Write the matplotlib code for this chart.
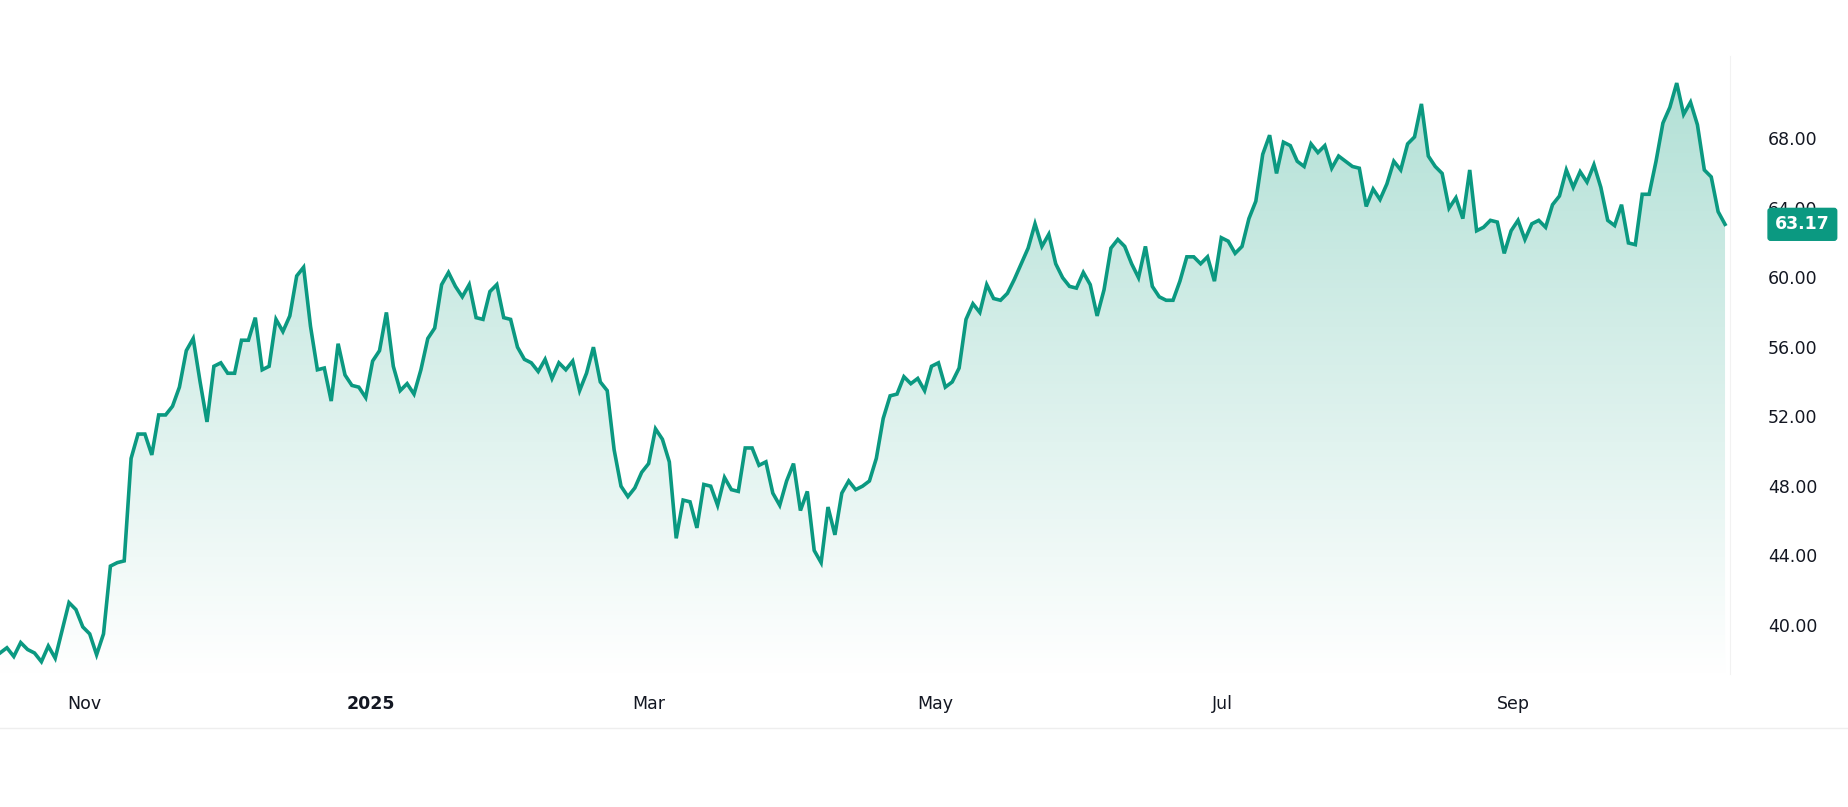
import matplotlib
matplotlib.use("Agg")
import matplotlib.pyplot as plt
import matplotlib.dates as mdates
import numpy as np
import pandas as pd
from matplotlib.colors import LinearSegmentedColormap

values = [38.5, 38.8, 38.3, 39.1, 38.7, 38.5, 38.0, 38.9, 38.2, 39.8, 41.4, 41.0, 40.0, 39.6, 38.4, 39.6,
          43.5, 43.7, 43.8, 49.7, 51.1, 51.1, 49.9, 52.2, 52.2, 52.7, 53.8, 55.9, 56.6, 54.1, 51.8, 55.0,
          55.2, 54.6, 54.6, 56.5, 56.5, 57.8, 54.8, 55.0, 57.7, 57.0, 57.9, 60.2, 60.7, 57.3, 54.8, 54.9,
          53.0, 56.3, 54.5, 53.9, 53.8, 53.2, 55.3, 55.9, 58.1, 55.0, 53.6, 54.0, 53.4, 54.8, 56.6, 57.2,
          59.7, 60.4, 59.6, 59.0, 59.7, 57.8, 57.7, 59.3, 59.7, 57.8, 57.7, 56.1, 55.4, 55.2, 54.7, 55.4,
          54.3, 55.2, 54.8, 55.3, 53.6, 54.6, 56.1, 54.1, 53.6, 50.2, 48.1, 47.5, 48.0, 48.9, 49.4, 51.4,
          50.8, 49.5, 45.1, 47.3, 47.2, 45.7, 48.2, 48.1, 47.0, 48.6, 47.9, 47.8, 50.3, 50.3, 49.3, 49.5,
          47.7, 47.0, 48.4, 49.4, 46.7, 47.8, 44.4, 43.7, 46.9, 45.3, 47.7, 48.4, 47.9, 48.1, 48.4, 49.7,
          52.0, 53.3, 53.4, 54.4, 54.0, 54.3, 53.6, 55.0, 55.2, 53.8, 54.1, 54.9, 57.7, 58.6, 58.1, 59.7,
          58.9, 58.8, 59.2, 60.0, 60.9, 61.8, 63.2, 61.9, 62.6, 60.9, 60.1, 59.6, 59.5, 60.4, 59.7, 57.9,
          59.4, 61.8, 62.3, 61.9, 60.9, 60.1, 61.9, 59.6, 59.0, 58.8, 58.8, 59.9, 61.3, 61.3, 60.9, 61.3,
          59.9, 62.4, 62.2, 61.5, 61.9, 63.5, 64.5, 67.2, 68.3, 66.1, 67.9, 67.7, 66.8, 66.5, 67.8, 67.3,
          67.7, 66.4, 67.1, 66.8, 66.5, 66.4, 64.2, 65.2, 64.6, 65.5, 66.8, 66.3, 67.8, 68.2, 70.1, 67.1,
          66.5, 66.1, 64.1, 64.7, 63.5, 66.3, 62.8, 63.0, 63.4, 63.3, 61.5, 62.8, 63.4, 62.3, 63.2, 63.4,
          63.0, 64.3, 64.8, 66.3, 65.3, 66.2, 65.6, 66.6, 65.3, 63.4, 63.1, 64.3, 62.1, 62.0, 64.9, 64.9,
          66.8, 69.0, 69.9, 71.3, 69.5, 70.2, 68.9, 66.3, 65.9, 63.9, 63.17]
start, end = "2024-10-14", "2025-10-16"
yticks = [40, 44, 48, 52, 56, 60, 64, 68]
xtick_dates = ["2024-11-01", "2025-01-01", "2025-03-01", "2025-05-01", "2025-07-01", "2025-09-01"]
xtick_labels = ["Nov", "2025", "Mar", "May", "Jul", "Sep"]

dates = pd.date_range(start, end, periods=len(values))
x = mdates.date2num(dates)
y = np.array(values)
color = "#0b9981"

fig = plt.figure(figsize=(18.48, 8.07), dpi=100)
ax = fig.add_axes([0.0, 0.165, 0.936, 0.765])
ymin, ymax = 37.30, 72.83
ax.set_ylim(ymin, ymax)
ax.set_xlim(x[0], x[-1] + 1)

poly = ax.fill_between(x, y, ymin, color="none")
cmap = LinearSegmentedColormap.from_list("g", [(1, 1, 1, 1), (0.70, 0.88, 0.84, 1)])
grad = np.linspace(0, 1, 256).reshape(-1, 1)
im = ax.imshow(grad, cmap=cmap, aspect="auto", origin="lower",
               extent=[x[0], x[-1], ymin, y.max()], zorder=1)
im.set_clip_path(poly.get_paths()[0], transform=ax.transData)
ax.plot(x, y, color=color, lw=2.6, zorder=3, solid_joinstyle="miter")

for s in ax.spines.values():
    s.set_visible(False)
ax.spines["right"].set_visible(True)
ax.spines["right"].set_color("#f2f2f2")
ax.set_xticks([])
ax.set_yticks([])

tc = "#131722"
for v in yticks:
    ax.text(1.022, (v - ymin) / (ymax - ymin), f"{v:.2f}", transform=ax.transAxes,
            ha="left", va="center", fontsize=12.5, color=tc)
for d, lab in zip(xtick_dates, xtick_labels):
    xv = mdates.date2num(pd.Timestamp(d))
    ax.text(xv, -0.035, lab, transform=ax.get_xaxis_transform(), ha="center", va="top",
            fontsize=12.5, color=tc, fontweight="bold" if lab == "2025" else "normal")

ax.text(1.042, (values[-1] - ymin) / (ymax - ymin), f"{values[-1]:.2f}", transform=ax.transAxes,
        ha="center", va="center", fontsize=12.5, color="white", fontweight="bold",
        bbox=dict(boxstyle="round,pad=0.4,rounding_size=0.15", fc=color, ec=color))

fig.add_artist(plt.Line2D([0, 1], [0.098, 0.098], color="#eeeeee", lw=1))
fig.savefig("out.png", dpi=100)
